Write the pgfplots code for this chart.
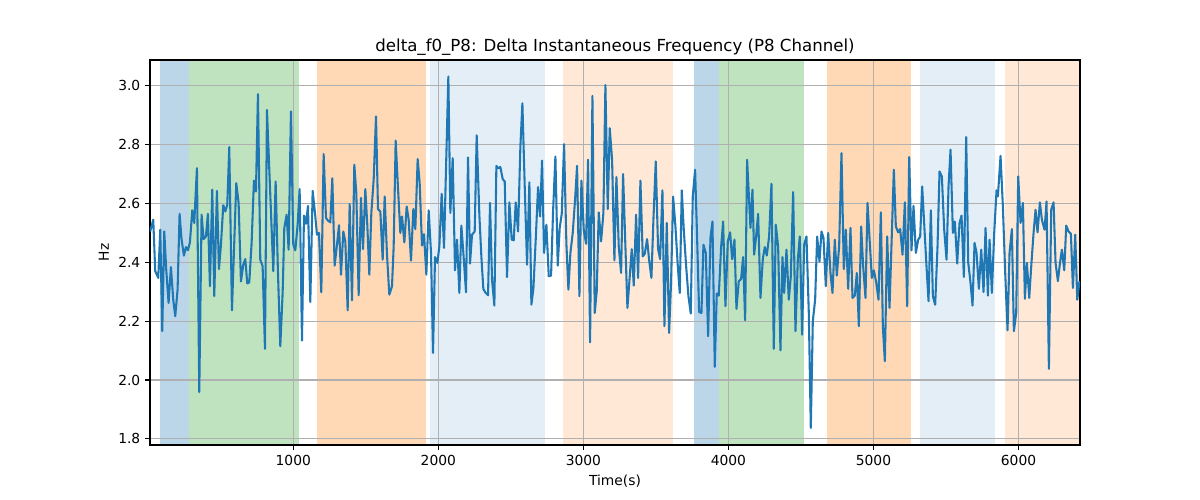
\documentclass[border=0pt]{standalone}
\usepackage{fontspec}
\setmainfont{DejaVu Sans}
\usepackage{pgfplots}
\pgfplotsset{compat=1.18}
\definecolor{tabblue}{RGB}{31,119,180}
\definecolor{tabgreen}{RGB}{44,160,44}
\definecolor{taborange}{RGB}{255,127,14}
\definecolor{gridgray}{RGB}{176,176,176}
\pgfplotsset{base/.style={
  at={(0,0)}, anchor=south west,
  scale only axis, width=9.3in, height=3.85in,
  xmin=12, xmax=6424, ymin=1.779, ymax=3.088}}
\begin{document}
\begin{tikzpicture}
\path[use as bounding box] (-1.5in,-0.55in) rectangle (10.5in,4.45in);
\begin{axis}[base, hide axis]
\addplot[draw=none, fill=tabblue, fill opacity=0.3] coordinates {(82.7,1.7) (278,1.7) (278,3.2) (82.7,3.2)};
\addplot[draw=none, fill=tabgreen, fill opacity=0.3] coordinates {(278,1.7) (1041,1.7) (1041,3.2) (278,3.2)};
\addplot[draw=none, fill=taborange, fill opacity=0.3] coordinates {(1165.5,1.7) (1917,1.7) (1917,3.2) (1165.5,3.2)};
\addplot[draw=none, fill=tabblue, fill opacity=0.12] coordinates {(1943,1.7) (2738,1.7) (2738,3.2) (1943,3.2)};
\addplot[draw=none, fill=taborange, fill opacity=0.17] coordinates {(2862,1.7) (3621,1.7) (3621,3.2) (2862,3.2)};
\addplot[draw=none, fill=tabblue, fill opacity=0.3] coordinates {(3766,1.7) (3933,1.7) (3933,3.2) (3766,3.2)};
\addplot[draw=none, fill=tabgreen, fill opacity=0.3] coordinates {(3933,1.7) (4524,1.7) (4524,3.2) (3933,3.2)};
\addplot[draw=none, fill=taborange, fill opacity=0.3] coordinates {(4683,1.7) (5262,1.7) (5262,3.2) (4683,3.2)};
\addplot[draw=none, fill=tabblue, fill opacity=0.12] coordinates {(5324,1.7) (5841,1.7) (5841,3.2) (5324,3.2)};
\addplot[draw=none, fill=taborange, fill opacity=0.17] coordinates {(5904,1.7) (6500,1.7) (6500,3.2) (5904,3.2)};
\end{axis}
\begin{axis}[base,
  xtick={1000,2000,3000,4000,5000,6000},
  ytick={1.8,2.0,2.2,2.4,2.6,2.8,3.0},
  yticklabel style={/pgf/number format/.cd, fixed, fixed zerofill, precision=1},
  xticklabel style={/pgf/number format/1000 sep={}},
  /pgf/number format/assume math mode=true,
  grid=major, major grid style={gridgray, line width=0.8pt},
  tick align=outside, major tick length=3.5pt,
  tick style={black, line width=0.8pt},
  axis line style={line width=0.8pt},
  xtick pos=lower, ytick pos=left,
  tick label style={font=\fontsize{10}{12}\selectfont},
  label style={font=\fontsize{10}{12}\selectfont},
  title style={font=\fontsize{12}{14}\selectfont, yshift=-6.5pt},
  title={delta\_f0\_P8: Delta Instantaneous Frequency (P8 Channel)},
  xlabel={Time(s)}, ylabel={Hz},
]
\addplot[tabblue, line width=1.5pt, line join=round] table {
x y
13.7 2.505
34.4 2.545
48.2 2.370
68.9 2.347
82.7 2.511
96.5 2.166
110.3 2.505
124.0 2.375
140.1 2.262
156.2 2.384
172.3 2.273
186.1 2.217
202.2 2.307
216.0 2.565
229.8 2.477
245.9 2.423
259.7 2.452
273.5 2.441
287.3 2.468
303.4 2.577
317.2 2.534
335.6 2.720
351.7 1.959
367.7 2.562
381.5 2.479
397.6 2.488
411.4 2.565
425.2 2.319
441.3 2.647
455.1 2.285
473.5 2.643
487.3 2.377
501.1 2.460
517.2 2.594
531.0 2.573
544.8 2.596
558.6 2.792
577.0 2.237
606.8 2.669
623.0 2.602
639.0 2.335
655.1 2.392
668.9 2.411
682.7 2.328
696.5 2.332
712.6 2.466
728.7 2.678
742.5 2.641
756.3 2.972
772.4 2.409
788.5 2.387
804.6 2.106
818.4 2.918
862.1 2.370
878.2 2.675
894.3 2.364
910.4 2.115
926.5 2.296
938.0 2.517
954.0 2.562
967.8 2.443
983.9 2.913
1000.0 2.460
1013.8 2.441
1029.9 2.528
1043.7 2.649
1059.8 2.134
1073.6 2.559
1087.4 2.531
1101.2 2.592
1117.3 2.265
1133.4 2.643
1149.5 2.568
1163.3 2.494
1177.1 2.500
1193.1 2.298
1209.2 2.768
1225.3 2.551
1239.1 2.542
1255.2 2.536
1269.0 2.686
1285.1 2.389
1301.2 2.460
1315.0 2.526
1328.8 2.358
1344.9 2.505
1358.7 2.471
1374.8 2.237
1388.6 2.598
1404.7 2.271
1420.7 2.732
1434.5 2.635
1450.6 2.288
1466.7 2.619
1480.5 2.445
1496.6 2.649
1510.4 2.525
1524.2 2.358
1538.0 2.568
1554.1 2.681
1570.2 2.896
1584.0 2.581
1600.1 2.573
1616.2 2.409
1630.0 2.624
1646.0 2.426
1662.1 2.290
1680.5 2.319
1692.0 2.454
1705.8 2.814
1721.9 2.652
1738.0 2.500
1749.5 2.556
1765.6 2.468
1781.6 2.590
1795.4 2.545
1811.5 2.406
1827.6 2.581
1841.4 2.513
1857.5 2.751
1871.3 2.669
1887.4 2.457
1901.2 2.496
1917.3 2.358
1933.4 2.577
1949.5 2.432
1963.3 2.092
1977.1 2.418
1993.2 2.398
2007.0 2.454
2023.0 2.633
2039.1 2.449
2069.0 3.032
2082.8 2.568
2098.9 2.754
2115.0 2.373
2128.8 2.477
2144.9 2.296
2158.7 2.525
2172.5 2.432
2190.9 2.298
2204.7 2.757
2218.5 2.396
2232.3 2.494
2250.6 2.505
2264.4 2.832
2282.8 2.562
2296.6 2.420
2310.4 2.309
2326.5 2.296
2342.6 2.288
2356.4 2.602
2370.2 2.341
2386.3 2.253
2400.1 2.728
2411.6 2.720
2427.7 2.724
2443.8 2.683
2457.6 2.675
2473.6 2.350
2489.8 2.604
2505.9 2.477
2519.7 2.475
2533.5 2.604
2549.6 2.505
2565.7 2.794
2579.5 2.941
2595.6 2.658
2611.6 2.392
2627.7 2.672
2641.5 2.256
2655.3 2.310
2671.4 2.477
2687.5 2.656
2701.3 2.556
2715.1 2.746
2728.9 2.432
2745.0 2.528
2761.1 2.353
2777.2 2.355
2791.0 2.573
2807.1 2.760
2823.2 2.389
2836.9 2.517
2850.7 2.565
2866.8 2.802
2882.9 2.463
2896.7 2.307
2910.5 2.432
2926.6 2.500
2942.7 2.613
2956.5 2.728
2972.6 2.285
2986.4 2.678
3002.5 2.511
3018.6 2.463
3032.4 2.749
3046.2 2.128
3062.3 2.966
3078.3 2.228
3092.1 2.302
3105.9 2.570
3122.0 2.471
3138.1 2.568
3151.9 3.003
3168.0 2.581
3181.8 2.856
3197.9 2.749
3214.0 2.407
3227.8 2.690
3243.9 2.454
3260.0 2.364
3273.7 2.700
3289.8 2.454
3303.6 2.245
3333.5 2.445
3347.3 2.321
3363.4 2.562
3377.2 2.347
3393.3 2.678
3409.4 2.420
3423.2 2.429
3439.3 2.479
3453.0 2.409
3469.1 2.347
3482.9 2.545
3499.0 2.743
3515.1 2.445
3528.9 2.411
3545.0 2.645
3558.8 2.183
3574.9 2.534
3591.0 2.160
3604.8 2.336
3618.6 2.624
3634.7 2.522
3650.8 2.389
3664.5 2.296
3678.3 2.645
3692.1 2.511
3708.2 2.389
3724.3 2.285
3740.4 2.226
3754.2 2.624
3770.3 2.715
3784.1 2.483
3797.9 2.231
3814.0 2.228
3827.8 2.460
3843.9 2.432
3860.0 2.149
3876.1 2.483
3889.9 2.539
3905.9 2.045
3919.7 2.294
3933.5 2.287
3949.6 2.452
3963.4 2.539
3979.5 2.251
3995.6 2.471
4011.7 2.502
4025.5 2.411
4041.6 2.477
4055.4 2.242
4071.4 2.336
4087.5 2.343
4101.3 2.418
4115.1 2.203
4128.9 2.749
4151.9 2.517
4165.7 2.647
4177.2 2.426
4191.0 2.488
4204.8 2.565
4220.9 2.279
4237.0 2.411
4250.8 2.452
4264.5 2.423
4280.6 2.488
4296.7 2.667
4312.8 2.106
4326.6 2.528
4342.7 2.454
4358.8 2.101
4372.6 2.418
4384.1 2.296
4400.2 2.443
4416.3 2.273
4430.1 2.352
4446.2 2.639
4462.3 2.166
4478.4 2.409
4492.1 2.488
4508.2 2.154
4522.0 2.460
4538.1 2.488
4554.2 2.228
4568.0 1.837
4581.8 2.200
4597.9 2.273
4611.7 2.488
4627.8 2.403
4641.6 2.505
4655.4 2.483
4671.5 2.319
4687.6 2.500
4703.7 2.364
4717.5 2.296
4733.5 2.477
4747.3 2.355
4763.4 2.454
4779.5 2.771
4795.6 2.377
4809.4 2.511
4825.5 2.310
4841.6 2.517
4855.4 2.279
4871.5 2.287
4885.3 2.364
4899.1 2.183
4915.2 2.522
4929.0 2.386
4945.1 2.279
4958.9 2.602
4988.8 2.347
5002.6 2.373
5018.7 2.332
5034.8 2.273
5050.9 2.570
5064.7 2.183
5078.5 2.064
5094.6 2.488
5110.6 2.245
5124.4 2.460
5140.5 2.715
5154.3 2.522
5170.4 2.502
5184.2 2.513
5200.3 2.426
5216.4 2.604
5232.5 2.251
5246.3 2.758
5262.4 2.441
5276.2 2.592
5292.3 2.432
5308.4 2.477
5322.1 2.488
5335.9 2.658
5352.0 2.511
5365.8 2.386
5379.6 2.268
5395.7 2.577
5409.5 2.285
5425.6 2.256
5441.7 2.454
5455.5 2.709
5471.6 2.692
5487.7 2.511
5503.8 2.409
5517.6 2.658
5531.4 2.783
5547.5 2.500
5561.2 2.539
5577.3 2.396
5593.4 2.534
5607.2 2.559
5623.3 2.350
5639.4 2.826
5653.2 2.400
5667.0 2.341
5683.1 2.253
5696.9 2.466
5710.7 2.432
5726.8 2.310
5742.9 2.443
5759.0 2.299
5772.8 2.517
5788.9 2.287
5800.4 2.477
5816.4 2.296
5832.5 2.500
5848.6 2.645
5857.8 2.624
5876.2 2.762
5892.2 2.590
5908.3 2.364
5924.4 2.169
5938.2 2.432
5954.3 2.513
5968.1 2.166
5984.2 2.228
5998.0 2.692
6014.1 2.534
6030.2 2.602
6044.0 2.276
6057.8 2.398
6073.9 2.279
6087.7 2.386
6103.8 2.500
6117.6 2.579
6131.3 2.502
6147.4 2.604
6161.2 2.545
6179.6 2.511
6193.4 2.607
6209.5 2.038
6225.6 2.579
6241.7 2.604
6255.5 2.398
6271.6 2.336
6285.4 2.396
6299.2 2.443
6315.3 2.373
6329.1 2.525
6345.2 2.505
6361.3 2.497
6375.1 2.313
6391.2 2.494
6405.0 2.273
6421.1 2.337
};
\end{axis}
\end{tikzpicture}
\end{document}
